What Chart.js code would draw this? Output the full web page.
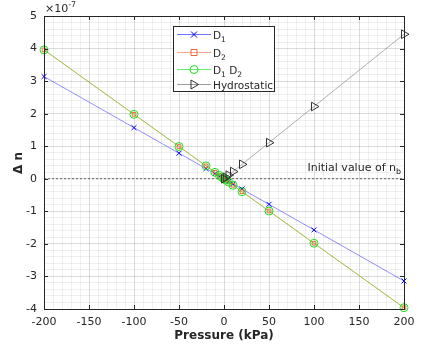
<!DOCTYPE html>
<html>
<head>
<meta charset="utf-8">
<script src="https://cdn.jsdelivr.net/npm/chart.js@4"></script>
<style>
  html, body { margin: 0; padding: 0; background: #fff; }
  #wrap { width: 427px; height: 350px; }
</style>
</head>
<body>
<div id="wrap"><canvas id="deltaChart" width="427" height="350"></canvas></div>
<script>
// values in units of 1e-7
var pressure = [-200, -100, -50, -20, -10, -5, -2, 0, 2, 5, 10, 20, 50, 100, 200];
var d1 = [3.14, 1.57, 0.785, 0.314, 0.157, 0.079, 0.031, 0, -0.031, -0.079, -0.157, -0.314, -0.785, -1.57, -3.14];
var d2 = [3.96, 1.98, 0.99, 0.396, 0.198, 0.099, 0.04, 0, -0.04, -0.099, -0.198, -0.396, -0.99, -1.98, -3.96];
var d1d2 = [3.96, 1.98, 0.99, 0.396, 0.198, 0.099, 0.04, 0, -0.04, -0.099, -0.198, -0.396, -0.99, -1.98, -3.96];
var hydroPressure = [0, 2, 5, 10, 20, 50, 100, 200];
var hydro = [0, 0.044, 0.111, 0.222, 0.444, 1.11, 2.22, 4.44];
var xTicks = [-200, -150, -100, -50, 0, 50, 100, 150, 200];
var yTicks = [-4, -3, -2, -1, 0, 1, 2, 3, 4, 5];

var AXIS = '#262626';

function pts(xs, ys) {
    return xs.map(function (x, i) { return { x: x, y: ys[i] }; });
}

function isMajor(v, list) {
    return list.some(function (t) { return Math.abs(t - v) < 1e-6; });
}

// rich text with subscripts / superscripts
function richText(ctx, parts, x, y, size, align) {
    var w = 0;
    parts.forEach(function (p) {
        ctx.font = (p.sub || p.sup ? size * 0.72 : size) + 'px "DejaVu Sans"';
        p.w = ctx.measureText(p.t).width;
        w += p.w;
    });
    var cx = align === 'right' ? x - w : x;
    ctx.textAlign = 'left';
    ctx.textBaseline = 'alphabetic';
    parts.forEach(function (p) {
        ctx.font = (p.sub || p.sup ? size * 0.72 : size) + 'px "DejaVu Sans"';
        var dy = p.sub ? size * 0.3 : (p.sup ? -size * 0.45 : 0);
        ctx.fillText(p.t, cx, y + dy);
        cx += p.w;
    });
}

function marker(ctx, kind, x, y, color) {
    ctx.save();
    ctx.strokeStyle = color;
    ctx.lineWidth = 1;
    ctx.beginPath();
    if (kind === 'cross') {
        ctx.moveTo(x - 3, y - 3); ctx.lineTo(x + 3, y + 3);
        ctx.moveTo(x - 3, y + 3); ctx.lineTo(x + 3, y - 3);
    } else if (kind === 'rect') {
        ctx.rect(x - 3, y - 3, 6, 6);
    } else if (kind === 'circle') {
        ctx.arc(x, y, 4, 0, Math.PI * 2);
    } else if (kind === 'tri') {
        ctx.moveTo(x + 4.5, y); ctx.lineTo(x - 3, y - 4.5); ctx.lineTo(x - 3, y + 4.5); ctx.closePath();
    }
    ctx.stroke();
    ctx.restore();
}

var legendItems = [
    { parts: [{ t: 'D' }, { t: '1', sub: true }], line: 'rgba(0,0,255,0.55)', mk: 'cross', mc: '#0000ff' },
    { parts: [{ t: 'D' }, { t: '2', sub: true }], line: 'rgba(240,110,60,0.6)', mk: 'rect', mc: '#ee6a3a' },
    { parts: [{ t: 'D' }, { t: '1', sub: true }, { t: ' D' }, { t: '2', sub: true }], line: 'rgba(0,230,0,0.6)', mk: 'circle', mc: '#22dd22' },
    { parts: [{ t: 'Hydrostatic' }], line: 'rgba(90,90,90,0.6)', mk: 'tri', mc: '#333333' }
];

var decorPlugin = {
    id: 'decor',
    afterDraw: function (chart) {
        var ctx = chart.ctx;
        var a = chart.chartArea;
        var xs = chart.scales.x, ys = chart.scales.y;
        ctx.save();
        // axes box
        ctx.strokeStyle = AXIS;
        ctx.lineWidth = 1;
        ctx.strokeRect(Math.round(a.left) + 0.5, Math.round(a.top) + 0.5,
            Math.round(a.right - a.left), Math.round(a.bottom - a.top));
        // inner tick marks
        ctx.beginPath();
        xTicks.forEach(function (t) {
            var px = Math.round(xs.getPixelForValue(t)) + 0.5;
            ctx.moveTo(px, a.bottom); ctx.lineTo(px, a.bottom - 4);
            ctx.moveTo(px, a.top); ctx.lineTo(px, a.top + 4);
        });
        yTicks.forEach(function (t) {
            var py = Math.round(ys.getPixelForValue(t)) + 0.5;
            ctx.moveTo(a.left, py); ctx.lineTo(a.left + 4, py);
            ctx.moveTo(a.right, py); ctx.lineTo(a.right - 4, py);
        });
        ctx.stroke();

        ctx.fillStyle = AXIS;
        // exponent
        richText(ctx, [{ t: '\u00d710' }, { t: '-7', sup: true }], a.left + 1, a.top - 4, 11, 'left');
        // initial value label
        richText(ctx, [{ t: 'Initial value of n' }, { t: 'b', sub: true }], a.right - 3,
            ys.getPixelForValue(0) - 8, 11, 'right');

        // axis titles
        ctx.font = 'bold 12px "DejaVu Sans"';
        ctx.textAlign = 'center';
        ctx.textBaseline = 'middle';
        ctx.fillText('Pressure (kPa)', (a.left + a.right) / 2, 336);
        ctx.save();
        ctx.translate(19, 163);
        ctx.rotate(-Math.PI / 2);
        ctx.fillText('\u0394 n', 0, 0);
        ctx.restore();

        // legend
        var lx = 173.5, ly = 26.5, lw = 101, lh = 65;
        ctx.fillStyle = '#fff';
        ctx.fillRect(lx, ly, lw, lh);
        ctx.strokeStyle = AXIS;
        ctx.strokeRect(lx, ly, lw, lh);
        var rows = [34.5, 52.5, 69.5, 84.5];
        legendItems.forEach(function (it, i) {
            var y = rows[i];
            ctx.strokeStyle = it.line;
            ctx.lineWidth = 1;
            ctx.beginPath();
            ctx.moveTo(177, y); ctx.lineTo(211, y);
            ctx.stroke();
            marker(ctx, it.mk, 194, y, it.mc);
            ctx.fillStyle = AXIS;
            richText(ctx, it.parts, 213, y + 4, 10.5, 'left');
        });
        ctx.restore();
    }
};

function gridColor(list) {
    return function (c) {
        return isMajor(c.tick.value, list) ? 'rgba(0,0,0,0.14)' : 'rgba(0,0,0,0.06)';
    };
}

var chartElement = document.getElementById('deltaChart').getContext('2d');
var chartObject = new Chart(chartElement, {
    type: 'line',
    data: {
        datasets: [{
            label: 'Initial value of n_b',
            data: pts([-200, 200], [0, 0]),
            borderColor: '#444',
            borderWidth: 0.8,
            borderDash: [2, 2],
            pointRadius: 0,
            order: 5
        }, {
            label: 'D1',
            data: pts(pressure, d1),
            borderColor: 'rgba(0,0,255,0.55)',
            borderWidth: 0.8,
            pointStyle: 'crossRot',
            pointRadius: 3.5,
            pointBorderColor: '#0000ff',
            pointBorderWidth: 1,
            pointBackgroundColor: 'transparent',
            order: 4
        }, {
            label: 'D2',
            data: pts(pressure, d2),
            borderColor: 'rgba(240,110,60,0.7)',
            borderWidth: 0.8,
            pointStyle: 'rect',
            pointRadius: 2.6,
            pointBorderColor: '#ee6a3a',
            pointBorderWidth: 1,
            pointBackgroundColor: 'transparent',
            order: 3
        }, {
            label: 'D1 D2',
            data: pts(pressure, d1d2),
            borderColor: 'rgba(60,220,0,0.6)',
            borderWidth: 0.8,
            pointStyle: 'circle',
            pointRadius: 4,
            pointBorderColor: '#22dd22',
            pointBorderWidth: 1,
            pointBackgroundColor: 'transparent',
            order: 2
        }, {
            label: 'Hydrostatic',
            data: pts(hydroPressure, hydro),
            borderColor: 'rgba(90,90,90,0.6)',
            borderWidth: 0.8,
            pointStyle: 'triangle',
            pointRotation: 90,
            pointRadius: 5,
            pointBorderColor: '#333333',
            pointBorderWidth: 1,
            pointBackgroundColor: 'transparent',
            order: 1
        }]
    },
    options: {
        responsive: false,
        animation: false,
        clip: false,
        layout: { padding: { top: 16, right: 23, left: 0, bottom: 0 } },
        plugins: { legend: { display: false }, tooltip: { enabled: false } },
        font: { family: '"DejaVu Sans"' },
        scales: {
            x: {
                type: 'linear',
                min: -200,
                max: 200,
                afterFit: function (s) { s.height = 41; },
                border: { display: false },
                grid: { color: gridColor(xTicks), drawTicks: false, lineWidth: 1 },
                ticks: {
                    stepSize: 10,
                    autoSkip: false,
                    maxRotation: 0,
                    padding: 7,
                    color: AXIS,
                    font: { family: '"DejaVu Sans"', size: 11 },
                    callback: function (v) { return isMajor(v, xTicks) ? String(Math.round(v)) : ''; }
                }
            },
            y: {
                type: 'linear',
                min: -4,
                max: 5,
                afterFit: function (s) { s.width = 44; },
                border: { display: false },
                grid: { color: gridColor(yTicks), drawTicks: false, lineWidth: 1 },
                ticks: {
                    stepSize: 0.2,
                    autoSkip: false,
                    padding: 7,
                    color: AXIS,
                    font: { family: '"DejaVu Sans"', size: 11 },
                    callback: function (v) { return isMajor(v, yTicks) ? String(Math.round(v)) : ''; }
                }
            }
        }
    },
    plugins: [decorPlugin]
});
</script>
</body>
</html>
